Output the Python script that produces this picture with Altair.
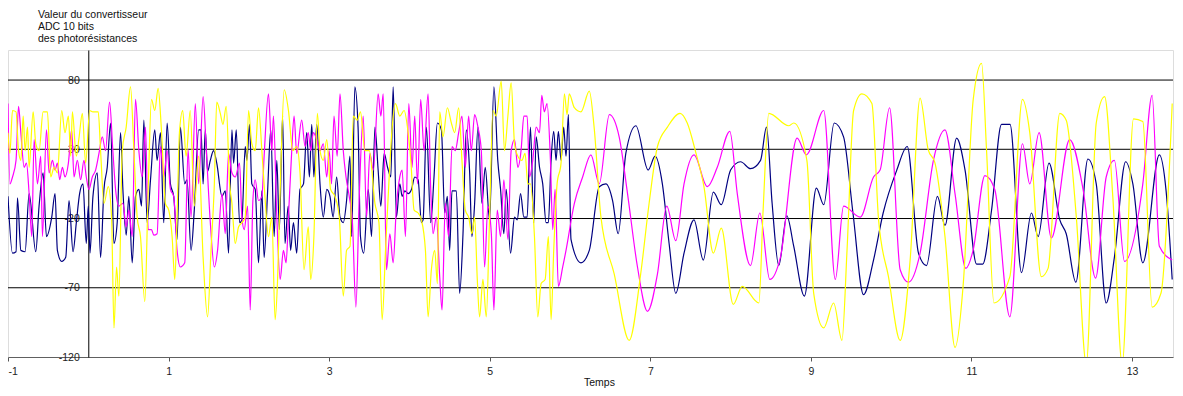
import altair as alt
import pandas as pd

# ---- data (time, value) ----
navy_t = [-1.0, -0.944, -0.9, -0.882, -0.84, -0.787, -0.737, -0.654, -0.613, -0.563, -0.521, -0.455, -0.414, -0.385,
          -0.331, -0.281, -0.24, -0.19, -0.149, -0.108, -0.066, -0.025, 0.0, 0.021, 0.058, 0.112, 0.153, 0.195, 0.236,
          0.278, 0.319, 0.36, 0.402, 0.431, 0.472, 0.505, 0.547, 0.588, 0.63, 0.663, 0.692, 0.733, 0.775, 0.828, 0.857,
          0.899, 0.94, 0.982, 1.023, 1.064, 1.106, 1.147, 1.201, 1.23, 1.28, 1.32, 1.375, 1.404, 1.43, 1.457, 1.486,
          1.52, 1.56, 1.6, 1.665, 1.706, 1.747, 1.789, 1.81, 1.843, 1.884, 1.913, 1.955, 1.975, 2.008, 2.037, 2.079,
          2.12, 2.162, 2.19, 2.232, 2.273, 2.315, 2.348, 2.38, 2.42, 2.45, 2.49, 2.52, 2.555, 2.596, 2.637, 2.68, 2.72,
          2.754, 2.783, 2.81, 2.845, 2.886, 2.927, 2.97, 3.01, 3.05, 3.093, 3.135, 3.176, 3.217, 3.259, 3.28, 3.32,
          3.36, 3.39, 3.43, 3.487, 3.528, 3.57, 3.61, 3.644, 3.685, 3.727, 3.768, 3.797, 3.838, 3.88, 3.909, 3.942,
          3.983, 4.025, 4.066, 4.108, 4.149, 4.17, 4.211, 4.265, 4.306, 4.348, 4.398, 4.439, 4.472, 4.501, 4.53, 4.584,
          4.625, 4.667, 4.708, 4.75, 4.778, 4.812, 4.853, 4.903, 4.944, 4.998, 5.052, 5.1, 5.135, 5.176, 5.205, 5.259,
          5.309, 5.342, 5.384, 5.425, 5.466, 5.507, 5.548, 5.578, 5.62, 5.66, 5.702, 5.73, 5.764, 5.797, 5.826, 5.855,
          5.888, 5.921, 5.95, 5.98, 6.012, 6.136, 6.24, 6.364, 6.447, 6.53, 6.6, 6.695, 6.82, 6.973, 7.06, 7.15, 7.234,
          7.317, 7.42, 7.544, 7.66, 7.785, 7.884, 8.0, 8.124, 8.248, 8.373, 8.447, 8.517, 8.6, 8.7, 8.786, 8.919,
          9.068, 9.16, 9.29, 9.407, 9.524, 9.656, 9.78, 9.9, 10.07, 10.2, 10.34, 10.44, 10.576, 10.67, 10.815, 10.92,
          11.064, 11.14, 11.25, 11.374, 11.48, 11.623, 11.747, 11.83, 11.966, 12.1, 12.18, 12.3, 12.45, 12.554,
          12.678, 12.78, 12.92, 13.01, 13.134, 13.34, 13.424, 13.5]
navy_v = [-4, -45, -44, -5, -43, -44, -2, -44, -11, 13, -33, -19, -2, -43,
          -51, -48, -7, -44, -23, -2, 5, -38, -11, -45, -4, 13, -48, 1, 17,
          49, -38, -23, 42, 1, -32, -4, -52, -4, 1, -11, 51, -23, 8, 44, 22,
          42, -23, 49, 5, -4, -35, 46, 5, 8, -43, -14, 44, 44, 5, 44, 14,
          22, 29, 20, -4, 0, -45, 44, 20, 44, -23, -21, 32, 22, 48, 5, 1,
          -52, 0, -48, -2, 44, -33, 22, -28, 54, -38, -11, -43, -23, -45, 1, 5, 42,
          10, 48, 10, 48, 5, -19, 1, -4, -19, 10, -19, -23, -7, 25, -33, 75,
          46, -33, -45, 1, -33, 46, 15, -11, 27, 17, 10, 75, -19, 5, -4, 0,
          -2, 1, 10, 8, -23, -21, 46, -23, 10, 49, 44, -16, -4, -43, 0, 0,
          -74, -31, 44, 13, -33, -9, 46, -9, 17, -21, 75, 22, 1, -31, 1, -45,
          -19, -21, -2, -19, -19, 46, -23, 39, 17, 5, -23, -23, 22, 43, 22, 43,
          22, 46, 25, 55, -35, -52, -43, 3, 5, -7, -31, 27, 47, 15, 25, 5, -38,
          -74, -45, -21, -50, -1, -10, 15, 21, 16, 22, 46, -9, -54, -18, -40, -76,
          2, -10, 49, 39, -16, -75, -50, -16, 15, 32, -45, -54, -4, -25, 38, 15,
          -53, -53, -14, 48, 48, -59, -16, -33, 20, -21, -31, -66, 23, 5,
          -81, -48, 21, 5, -52, 26, 0, -64]

magenta_t = [-1.0, -0.977, -0.944, -0.9, -0.869, -0.84, -0.799, -0.77, -0.737, -0.704, -0.675, -0.633, -0.592, -0.571,
             -0.521, -0.488, -0.447, -0.414, -0.385, -0.356, -0.323, -0.29, -0.248, -0.207, -0.178, -0.136, -0.095,
             -0.054, -0.025, 0.008, 0.05, 0.091, 0.133, 0.174, 0.215, 0.265, 0.306, 0.34, 0.381, 0.431, 0.472, 0.505,
             0.547, 0.588, 0.63, 0.671, 0.713, 0.746, 0.787, 0.816, 0.857, 0.899, 0.94, 0.982, 1.023, 1.064, 1.106,
             1.147, 1.201, 1.243, 1.28, 1.333, 1.375, 1.43, 1.47, 1.52, 1.57, 1.61, 1.665, 1.706, 1.747, 1.789, 1.83,
             1.884, 1.913, 1.942, 1.984, 2.017, 2.05, 2.079, 2.12, 2.162, 2.19, 2.244, 2.286, 2.306, 2.348, 2.39, 2.43,
             2.464, 2.493, 2.534, 2.563, 2.596, 2.658, 2.7, 2.74, 2.77, 2.803, 2.845, 2.886, 2.927, 2.97, 3.0, 3.03,
             3.06, 3.1, 3.135, 3.176, 3.21, 3.25, 3.29, 3.333, 3.375, 3.424, 3.466, 3.507, 3.55, 3.61, 3.644, 3.673,
             3.714, 3.756, 3.797, 3.838, 3.88, 3.909, 3.95, 3.992, 4.033, 4.066, 4.1, 4.14, 4.182, 4.232, 4.265, 4.294,
             4.335, 4.377, 4.406, 4.447, 4.488, 4.53, 4.57, 4.613, 4.654, 4.696, 4.737, 4.77, 4.812, 4.853, 4.895,
             4.936, 4.977, 5.02, 5.052, 5.093, 5.135, 5.176, 5.226, 5.267, 5.309, 5.35, 5.39, 5.425, 5.466, 5.495,
             5.536, 5.578, 5.62, 5.648, 5.68, 5.714, 5.756, 5.785, 5.814, 5.855, 5.909, 5.95, 6.054, 6.157, 6.26,
             6.364, 6.49, 6.612, 6.716, 6.84, 6.965, 7.089, 7.205, 7.317, 7.42, 7.544, 7.71, 7.834, 7.99, 8.083,
             8.248, 8.364, 8.488, 8.62, 8.828, 8.944, 9.16, 9.304, 9.407, 9.615, 9.78, 9.862, 9.98, 10.112, 10.215,
             10.36, 10.526, 10.67, 10.795, 10.93, 11.02, 11.167, 11.29, 11.478, 11.635, 11.726, 11.842, 11.995,
             12.223, 12.39, 12.546, 12.678, 12.78, 12.906, 13.134, 13.25, 13.34, 13.5]
magenta_v = [63, 5, 10, 22, 61, 42, 17, 20, -2, -33, 37, 5, 25, -33,
             44, 13, 22, 15, 20, 8, 17, 10, 20, 44, 10, 22, 8,
             22, 10, 1, 10, 15, 27, 39, 29, 64, 29, 1, -11, -9, -26, -14,
             -33, 66, 29, 10, 46, -28, -28, -32, -31, 32, 10, 29, 1, -4, -43,
             -55, -52, 30, -19, 63, 5, 68, 29, -23, -55, -43, -2, -31, 27, 13, 10,
             20, -19, -28, -11, -86, -7, 8, -7, -4, 25, 70, 29, 54, -19, -64, -43,
             -52, -19, 29, 54, 27, 51, 32, 42, 29, 42, 37, 29, 34, 10, 29, 5,
             54, 25, 70, 29, 10, -4, -23, -84, -4, 54, -19, 27, 15, 70, 54, 70,
             -57, -31, -52, -11, 10, 15, -33, 63, 17, 54, 5, 66, 29, 70, 1, -31,
             -19, -62, -86, -9, -33, 32, 29, 42, 54, 17, 54, 29, 55, 46, 29,
             -55, -11, -31, -86, -14, -33, 8, -35, 29, 37, 17, 29, 54, 54, 10,
             22, 46, 42, 69, 57, 63, 22, -28, 1, -69, -55, -43, -9, 10, 26,
             5, 55, 39, -2, -55, -87, -60, -11, -36, 5, 26, 3, 17, 43, -2,
             -54, -16, -64, -48, 38, 26, 58, -64, -11, -19, 10, 15, 60, -57, -66,
             -45, 22, 44, -2, -56, -43, 11, 1, -91, 34, 5, 42, -34,
             37, 1, -63, 10, 22, -51, 5, 69, -40, -50]

yellow_t = [-1.0, -0.977, -0.944, -0.9, -0.869, -0.84, -0.811, -0.787, -0.757, -0.737, -0.687, -0.654, -0.613, -0.563,
            -0.509, -0.468, -0.426, -0.385, -0.331, -0.29, -0.248, -0.219, -0.198, -0.149, -0.116, -0.074, -0.033,
            0.017, 0.058, 0.124, 0.153, 0.195, 0.249, 0.29, 0.32, 0.352, 0.381, 0.423, 0.472, 0.526, 0.568, 0.609,
            0.65, 0.704, 0.746, 0.787, 0.828, 0.87, 0.911, 0.96, 1.002, 1.044, 1.077, 1.106, 1.135, 1.176, 1.218,
            1.27, 1.32, 1.375, 1.43, 1.486, 1.528, 1.57, 1.6, 1.644, 1.677, 1.718, 1.76, 1.789, 1.83, 1.872, 1.913,
            1.955, 1.996, 2.037, 2.079, 2.12, 2.162, 2.2, 2.244, 2.286, 2.327, 2.356, 2.398, 2.44, 2.493, 2.547,
            2.596, 2.637, 2.687, 2.74, 2.77, 2.81, 2.853, 2.886, 2.927, 2.97, 3.018, 3.072, 3.126, 3.176, 3.217, 3.26,
            3.3, 3.35, 3.39, 3.445, 3.5, 3.57, 3.62, 3.66, 3.702, 3.743, 3.785, 3.826, 3.88, 3.934, 3.975, 4.017,
            4.058, 4.108, 4.149, 4.199, 4.232, 4.273, 4.315, 4.348, 4.377, 4.418, 4.472, 4.522, 4.563, 4.613, 4.654,
            4.696, 4.737, 4.778, 4.812, 4.845, 4.874, 4.915, 4.957, 4.998, 5.04, 5.08, 5.143, 5.184, 5.226, 5.267,
            5.309, 5.35, 5.4, 5.44, 5.474, 5.507, 5.557, 5.598, 5.64, 5.69, 5.73, 5.764, 5.797, 5.839, 5.888, 5.93,
            5.963, 5.99, 6.054, 6.136, 6.24, 6.3, 6.385, 6.55, 6.737, 6.88, 6.985, 7.089, 7.213, 7.37, 7.46, 7.565,
            7.668, 7.785, 7.884, 8.033, 8.145, 8.352, 8.405, 8.476, 8.724, 8.786, 8.95, 9.035, 9.16, 9.283, 9.387,
            9.45, 9.532, 9.635, 9.76, 9.843, 9.966, 10.112, 10.236, 10.36, 10.46, 10.546, 10.67, 10.795, 10.898,
            11.022, 11.126, 11.188, 11.28, 11.478, 11.635, 11.726, 11.87, 11.954, 12.1, 12.18, 12.306, 12.43,
            12.554, 12.658, 12.76, 12.877, 13.018, 13.134, 13.25, 13.36, 13.5]
yellow_v = [42, 27, 58, 57, 29, 22, 54, 29, 46, 17, 57, 34, 29, 57,
            57, 10, 17, 13, 58, 42, 54, 25, 57, 25, 38, 56, 20,
            58, 57, 57, 29, -9, 3, -19, -99, -55, -76, 29, 46, 75, 29, -19,
            -33, -80, 1, 66, 58, 74, 44, -9, -14, -33, -64, -19, 42, 58, 25,
            58, -11, 25, -48, -91, -43, 5, 64, 56, 48, 61, 5, -9, -38, -26, -23,
            -19, 58, 34, 29, 60, 29, -4, -33, -19, -93, -67, 17, 73, 58, 29,
            32, 13, -57, -26, -64, -33, 56, 29, 22, 37, 1, -4, -19, -76, -43, -40,
            54, 51, 57, 29, 29, -9, -23, -93, -43, 5, 46, 63, 54, 58, 46, 22,
            -14, -16, -21, -43, -91, -57, -43, -67, 57, 39, 60, 49, 42, 60, 22,
            -14, -19, -31, -19, -64, -91, -64, -91, -19, 58, 54, 79, 29, 54, 78,
            34, 25, 22, 27, 5, 5, -33, -91, -67, -64, -33, -93, -43, 5, 20, 70,
            55, 70, 60, 57, 72, 46, -19, -60, -108, -60, -9, 32, 46, 56, 49, 28,
            3, -45, -27, -82, -69, -81, -14, 56, 47, 49, 22, -74, -99, -81, -108,
            -43, 58, 70, 63, -21, -62, -108, -50, 67, 30, 20, -33, -113, -67,
            66, 92, 29, -81, -62, 66, 42, -62, -56, 56, 51, -19, -125,
            49, 68, -4, -125, 52, 50, -84, -74, 63]

series_names = ["Photorésistance 1", "Photorésistance 2", "Photorésistance 3"]
series_colors = ["#000080", "#FF00FF", "#FFFF00"]
x_ticks = [-1, 1, 3, 5, 7, 9, 11, 13]
y_ticks = [80, 30, -20, -70, -120]
grid_vals = [80, 30, -20, -70]
title_lines = ["Valeur du convertisseur", "ADC 10 bits", "des photorésistances"]

FONT = "Liberation Sans"
W, H = 1165, 307
X_DOMAIN = [-1, 13.51]
# the vertical axis crosses at t = 0
y_axis_offset = -(0 - X_DOMAIN[0]) / (X_DOMAIN[1] - X_DOMAIN[0]) * W

rows = []
for name, ts, vs in zip(series_names, [navy_t, magenta_t, yellow_t], [navy_v, magenta_v, yellow_v]):
    for t, v in zip(ts, vs):
        rows.append({"serie": name, "t": t, "v": v})
df = pd.DataFrame(rows)

xscale = alt.Scale(domain=X_DOMAIN, nice=False, zero=False)
yscale = alt.Scale(domain=[-120, 101.7], nice=False, zero=False)

xaxis = alt.Axis(values=x_ticks, labelExpr="datum.value + ''", grid=False, tickSize=4, tickColor="#555555",
                 domainColor="#606060", domainWidth=1, labelFont=FONT, labelFontSize=10.5, labelColor="#222222",
                 labelPadding=5, labelBaseline="top", title="Temps", titleFont=FONT, titleFontSize=10.5,
                 titleFontWeight="normal", titleColor="#111111", titleX=591, titleY=20, titleAlign="center",
                 titleBaseline="top")
yaxis = alt.Axis(values=y_ticks, labelExpr="datum.value + ''", grid=False, ticks=False, tickSize=0,
                 offset=y_axis_offset, domainColor="#000000", domainWidth=1, labelFont=FONT, labelFontSize=10.5,
                 labelColor="#222222", labelPadding=9, labelOverlap=False, title=None)

X = alt.X("t:Q", scale=xscale, axis=xaxis)
Y = alt.Y("v:Q", scale=yscale, axis=yaxis)

grid = alt.Chart(pd.DataFrame({"v": grid_vals})).mark_rule(color="#000000", strokeWidth=1).encode(y=Y)

layers = [grid]
for name, col in zip(series_names, series_colors):
    layers.append(
        alt.Chart(df).transform_filter(alt.datum.serie == name)
        .mark_line(color=col, strokeWidth=1.2, interpolate="monotone", clip=True)
        .encode(x=X, y=Y)
    )

chart = alt.layer(*layers).properties(
    width=W, height=H,
    title=alt.TitleParams(text=title_lines, anchor="start", frame="group", font=FONT, fontSize=10.5,
                          fontWeight="normal", color="#111111", lineHeight=12, dx=30, offset=6),
    padding={"left": 0, "top": 42, "right": 2, "bottom": 34},
    autosize=alt.AutoSizeParams(type="none"),
).configure_view(fill="#C0C0C0", stroke="#808080", strokeWidth=1).configure(background="#FFFFFF")

chart.save("out.html", embed_options={"renderer": "svg", "actions": False})
